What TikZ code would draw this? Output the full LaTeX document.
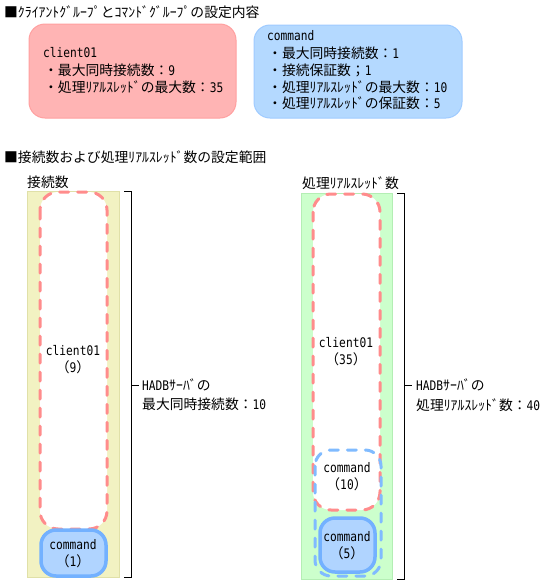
\documentclass[tikz,border=0pt]{standalone}
\usepackage{fontspec}
\setmainfont{Noto Sans CJK JP}
\newfontfamily\latfont[FakeStretch=0.85]{DejaVu Sans Mono}
\newcommand{\lt}[1]{{\latfont\fontsize{13.2}{16}\selectfont #1}}
\definecolor{pinkfill}{HTML}{FFB4B4}
\definecolor{pinkedge}{HTML}{FFA0A0}
\definecolor{bluefill}{HTML}{B4D9FF}
\definecolor{blueedge}{HTML}{9FCBFF}
\definecolor{yellowfill}{HTML}{F2F2C2}
\definecolor{yellowedge}{HTML}{E0E0A8}
\definecolor{greenfill}{HTML}{CCFFCC}
\definecolor{greenedge}{HTML}{B4EEB4}
\definecolor{pinkdash}{HTML}{FF8C8C}
\definecolor{bluedash}{HTML}{80BBFF}
\definecolor{cmdfill}{HTML}{B0D4FF}
\definecolor{cmdedge}{HTML}{73B1FF}
\tikzset{
  txt/.style={inner sep=0pt, font=\fontsize{13.8}{16}\selectfont, anchor=west},
  ctxt/.style={inner sep=0pt, font=\fontsize{13.8}{16}\selectfont, align=center},
  infopink/.style={draw=pinkedge, fill=pinkfill, line width=1pt, rounded corners=16pt},
  infoblue/.style={draw=blueedge, fill=bluefill, line width=1pt, rounded corners=16pt},
  col/.style={line width=1pt},
  pinkrange/.style={draw=pinkdash, line width=3pt, dash pattern=on 9pt off 9pt, line cap=round, rounded corners=18pt},
  bluerange/.style={draw=bluedash, line width=3pt, dash pattern=on 9pt off 9pt, line cap=round, rounded corners=16pt},
  cmdbox/.style={draw=cmdedge, fill=cmdfill, line width=3.5pt, rounded corners=15pt},
  brk/.style={draw=black, line width=0.8pt},
}
\begin{document}
\begin{tikzpicture}[x=1pt, y=-1pt]
\useasboundingbox (0,0) rectangle (549,584);
\fill[white] (0,0) rectangle (549,584);
% section 1
\node[txt] (t1) at (4,12) {■ｸﾗｲｱﾝﾄｸﾞﾙｰﾌﾟとｺﾏﾝﾄﾞｸﾞﾙｰﾌﾟの設定内容};
\draw[infopink] (29,24) rectangle (236,118);
\node[txt] (c1) at (43,53) {\lt{client01}};
\node[txt] (c2) at (44,70) {・最大同時接続数：\lt{9}};
\node[txt] (c3) at (44,87) {・処理ﾘｱﾙｽﾚｯﾄﾞの最大数：\lt{35}};
\draw[infoblue] (254,25) rectangle (462,118);
\node[txt] (d1) at (267,36) {\lt{command}};
\node[txt] (d2) at (268,53) {・最大同時接続数：\lt{1}};
\node[txt] (d3) at (268,70) {・接続保証数；\lt{1}};
\node[txt] (d4) at (268,87) {・処理ﾘｱﾙｽﾚｯﾄﾞの最大数：\lt{10}};
\node[txt] (d5) at (268,103) {・処理ﾘｱﾙｽﾚｯﾄﾞの保証数：\lt{5}};
% section 2
\node[txt] (t2) at (4,157) {■接続数および処理ﾘｱﾙｽﾚｯﾄﾞ数の設定範囲};
\node[txt] (h1) at (27,182) {接続数};
\node[txt] (h2) at (302,183) {処理ﾘｱﾙｽﾚｯﾄﾞ数};
% left column
\draw[col, draw=yellowedge, fill=yellowfill] (27,191) rectangle (119,577);
\draw[pinkrange, fill=white] (40,192) rectangle (107,529);
\draw[cmdbox] (41,530) rectangle (106,576);
\node[ctxt] (l1) at (73,360) {\lt{client01}\\[1pt]（\lt{9}）};
\node[ctxt] (l2) at (73,554) {\lt{command}\\[1pt]（\lt{1}）};
\draw[brk] (124,191) -- (131,191) -- (131,577) -- (124,577);
\coordinate (lb) at (131,385);
\coordinate (lt) at (139,385);
\draw[brk] (lb) -- (lt);
\node[txt] (la) at (142,385) {\lt{HADB}ｻｰﾊﾞの};
\node[txt] (lc) at (142,404) {最大同時接続数：\lt{10}};
% right column
\draw[col, draw=greenedge, fill=greenfill] (301,193) rectangle (392,579);
\draw[pinkrange, fill=white] (313,194) rectangle (380,510);
\draw[bluerange] (315,450) rectangle (381,576);
\draw[cmdbox] (320,518) rectangle (375,572);
\node[ctxt] (r1) at (346,352) {\lt{client01}\\[1pt]（\lt{35}）};
\node[ctxt] (r2) at (347,477) {\lt{command}\\[1pt]（\lt{10}）};
\node[ctxt] (r3) at (347,546) {\lt{command}\\[1pt]（\lt{5}）};
\draw[brk] (397,193) -- (404,193) -- (404,579) -- (397,579);
\coordinate (rb) at (404,385);
\coordinate (rt) at (412,385);
\draw[brk] (rb) -- (rt);
\node[txt] (ra) at (416,385) {\lt{HADB}ｻｰﾊﾞの};
\node[txt] (rc) at (416,405) {処理ﾘｱﾙｽﾚｯﾄﾞ数：\lt{40}};
\end{tikzpicture}
\end{document}
